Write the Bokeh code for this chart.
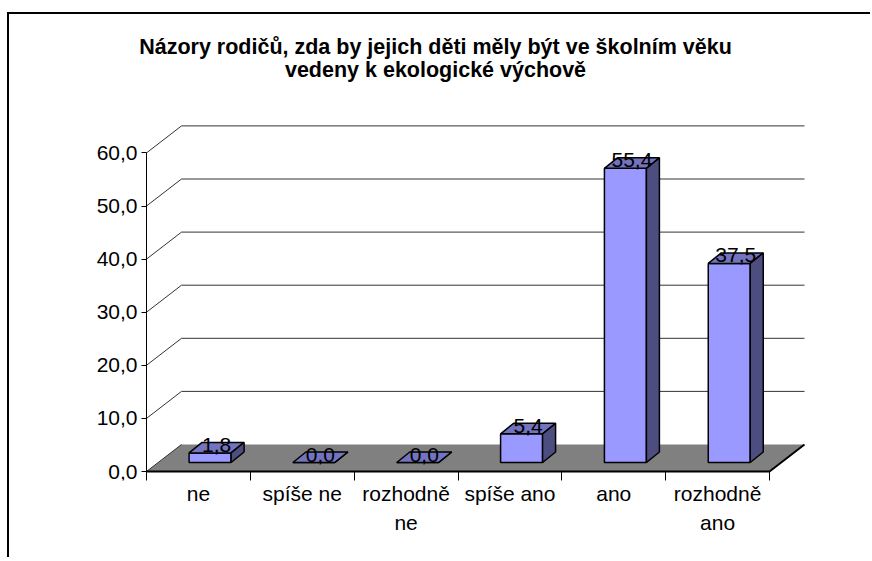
from bokeh.plotting import figure
from bokeh.models import Range1d, FixedTicker, ColumnDataSource, InlineStyleSheet
from bokeh.core.properties import value
from bokeh.embed import file_html
from bokeh.resources import INLINE

# ---------------- data ----------------
title_lines = ["Názory rodičů, zda by jejich děti měly být ve školním věku",
               "vedeny k ekologické výchově"]
categories = ["ne", "spíše ne", "rozhodně ne", "spíše ano", "ano", "rozhodně ano"]
category_labels = ["ne", "spíše ne", "rozhodně\nne", "spíše ano", "ano", "rozhodně\nano"]
values = [1.8, 0.0, 0.0, 5.4, 55.4, 37.5]
value_labels = ["1,8", "0,0", "0,0", "5,4", "55,4", "37,5"]
y_ticks = [0, 10, 20, 30, 40, 50, 60]
y_tick_labels = ["0,0", "10,0", "20,0", "30,0", "40,0", "50,0", "60,0"]

# ---------------- layout (pixels, canvas coordinates) ----------------
W, H = 863, 545
FRAME_L = 60                      # frame left edge (room for the title)
AX, AY = 137, 457                 # y axis position / value 0 on the front plane
TICK = 9                          # category tick length (drawn inward)
FRAME_B = AY + TICK               # frame bottom (room for the "0,0" label)
N = len(categories)
PX_X = 623.0 / N                  # pixels per category
PX_Y = 5.31                       # pixels per value unit
x_start = (FRAME_L - AX) / PX_X
x_end = (W - AX) / PX_X
y_start = -TICK / PX_Y
y_end = AY / PX_Y

def dxu(px):
    return px / PX_X

def dyu(px):
    return px / PX_Y

def to_x(cx):
    return (cx - AX) / PX_X

def to_y(cy):
    return (AY - cy) / PX_Y

DX, DY = dxu(35), dyu(27)            # full depth of the 3D floor / walls
SX, SY = DX / 3.0, DY / 3.0          # depth of the bars' front faces
BDX, BDY = dxu(13), dyu(10.5)        # bar depth
BW = dxu(42)                         # bar width

FONT = "Liberation Sans"
FRONT, TOP, SIDE = "#9999FF", "#7373BF", "#4D4D80"

p = figure(width=W, height=H, x_range=Range1d(x_start, x_end), y_range=Range1d(y_start, y_end),
           title=None, output_backend="svg", toolbar_location=None,
           min_border_left=FRAME_L, min_border_top=0,
           min_border_right=0, min_border_bottom=H - FRAME_B)
p.background_fill_color = "white"
p.border_fill_color = "white"
p.outline_line_color = None
p.grid.visible = False
p.stylesheets = [InlineStyleSheet(css=":host { margin: 12px 0 0 7px !important; "
                                      "border-top: 2px solid #000; border-left: 2px solid #000; }")]

# ---------------- walls and floor ----------------
levels = y_ticks[1:]
p.segment(x0=[DX] * len(levels), y0=[v + DY for v in levels],
          x1=[N + DX] * len(levels), y1=[v + DY for v in levels],
          line_color="#333333", line_width=1)
p.segment(x0=[0] * len(levels), y0=levels,
          x1=[DX] * len(levels), y1=[v + DY for v in levels],
          line_color="#333333", line_width=1)
p.patch(x=[0, N, N + DX, DX], y=[0, 0, DY, DY],
        fill_color="#808080", line_color=None)
p.line(x=[DX, 0], y=[DY, 0], line_color="#333333", line_width=1)
p.line(x=[0, N, N + DX], y=[0, 0, DY], line_color="black", line_width=2)

# ---------------- bars ----------------
centers = [i + 0.5 for i in range(N)]
left = [c + SX - BW / 2 for c in centers]
right = [c + SX + BW / 2 for c in centers]
bottom = [SY] * N
top = [SY + v for v in values]

src = ColumnDataSource(dict(left=left, right=right, bottom=bottom, top=top))
p.quad(left="left", right="right", bottom="bottom", top="top", source=src,
       fill_color=FRONT, line_color="black", line_width=1.5)

top_xs = [[l, r, r + BDX, l + BDX] for l, r in zip(left, right)]
top_ys = [[t, t, t + BDY, t + BDY] for t in top]
p.patches(xs=top_xs, ys=top_ys, fill_color=TOP, line_color="black", line_width=1.5)

side_xs = [[r, r + BDX, r + BDX, r] for r in right]
side_ys = [[b, b + BDY, t + BDY, t] for b, t in zip(bottom, top)]
p.patches(xs=side_xs, ys=side_ys, fill_color=SIDE, line_color="black", line_width=1.5)

p.text(x=[c + SX + BDX / 2 for c in centers], y=[t + dyu(1) for t in top],
       text=value_labels, text_align="center", text_baseline="bottom",
       text_font=value(FONT), text_font_size="21px", text_color="black")

# ---------------- title ----------------
p.text(x=[to_x(426)] * 2, y=[to_y(32), to_y(55)], text=title_lines,
       text_align="center", text_baseline="middle",
       text_font=value(FONT), text_font_style="bold", text_font_size="21.5px",
       text_color="black")

# ---------------- axes ----------------
ya = p.yaxis[0]
ya.fixed_location = 0
ya.ticker = FixedTicker(ticks=y_ticks)
ya.bounds = (0, 60)
ya.major_label_overrides = {t: s for t, s in zip(y_ticks, y_tick_labels)}
ya.major_label_text_font = FONT
ya.major_label_text_font_size = "21px"
ya.major_label_text_color = "black"
ya.major_tick_out = 5
ya.major_tick_in = 0
ya.minor_tick_line_color = None
ya.major_label_standoff = 4
ya.axis_line_color = "black"
ya.major_tick_line_color = "black"

xa = p.xaxis[0]
xa.ticker = FixedTicker(ticks=centers, minor_ticks=list(range(N + 1)))
xa.bounds = (0, N)
xa.major_label_overrides = {c: s for c, s in zip(centers, category_labels)}
xa.major_label_text_font = FONT
xa.major_label_text_font_size = "21px"
xa.major_label_text_color = "black"
xa.major_label_text_line_height = 1.3
xa.major_tick_out = 0
xa.major_tick_in = 0
xa.major_tick_line_color = None
xa.minor_tick_out = 0
xa.minor_tick_in = TICK
xa.minor_tick_line_color = "black"
xa.axis_line_color = None
xa.major_label_standoff = 1

open("out.html", "w").write(file_html(p, INLINE))
